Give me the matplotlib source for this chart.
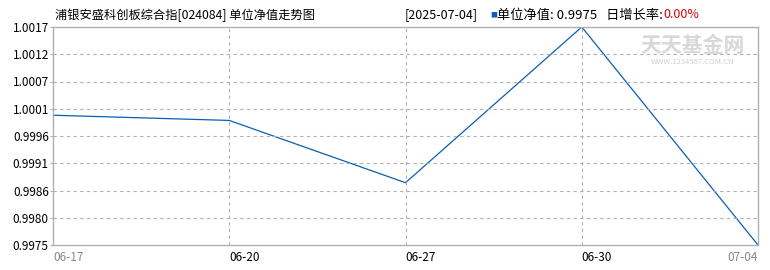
import matplotlib.pyplot as plt
import numpy as np

plt.rcParams['font.family'] = ['Noto Sans CJK SC', 'DejaVu Sans']

dates = ['06-17', '06-20', '06-27', '06-30', '07-04']
nav = [1.0000, 0.9999, 0.9987, 1.0017, 0.9975]
ytick_labels = ['0.9975', '0.9980', '0.9986', '0.9991', '0.9996',
                '1.0001', '1.0007', '1.0012', '1.0017']

fig = plt.figure(figsize=(7.7, 2.7), dpi=100)
ax = fig.add_axes([53/770, 25/270, 705/770, 218/270])

x = np.arange(len(dates))
ax.plot(x, nav, color='#0a5fb4', lw=0.9)

ymin, ymax = min(nav), max(nav)
yt = np.linspace(ymin, ymax, len(ytick_labels))
ax.set_xlim(0, len(dates) - 1)
ax.set_ylim(ymin, ymax)
ax.set_yticks(yt)
ax.set_yticklabels(ytick_labels)
ax.set_xticks(x)
ax.set_xticklabels(dates)

grid_kw = dict(color='#b0b0b0', lw=0.8, ls=(0, (3, 3)))
for v in yt[1:-1]:
    ax.axhline(v, **grid_kw)
for xi in x[1:-1]:
    ax.axvline(xi, **grid_kw)

for s in ax.spines.values():
    s.set_color('#b0b0b0')
    s.set_linewidth(1)
ax.tick_params(axis='y', length=2, color='#b0b0b0', labelsize=8.5, pad=1)
ax.tick_params(axis='x', length=0, labelsize=8.5, pad=4)
labs = ax.get_xticklabels()
for lab in labs[:-1]:
    lab.set_ha('left')
labs[-1].set_ha('right')
labs[0].set_color('#888888')
labs[-1].set_color('#888888')

fig.text(55/770, 1 - 15/270, '浦银安盛科创板综合指[024084] 单位净值走势图',
         fontsize=8.8, va='center', ha='left')
fig.text(405/770, 1 - 15/270, '[2025-07-04]', fontsize=9, va='center', ha='left')
fig.text(490/770, 1 - 15/270, '■', fontsize=5, color='#0a5fb4', va='center', ha='left')
fig.text(497/770, 1 - 15/270, '单位净值: 0.9975   日增长率:', fontsize=9.5, va='center', ha='left')
fig.text(663/770, 1 - 15/270, '0.00%', fontsize=9, color='#e00000', va='center', ha='left')

fig.text(693/770, 1 - 45/270, '天天基金网', fontsize=15, color='#d8d8d8',
         va='center', ha='center', fontweight='bold')
fig.text(693/770, 1 - 62/270, 'WWW.1234567.COM.CN', fontsize=5.5, color='#d0d0d0',
         va='center', ha='center')

fig.savefig('out.png', dpi=100)
